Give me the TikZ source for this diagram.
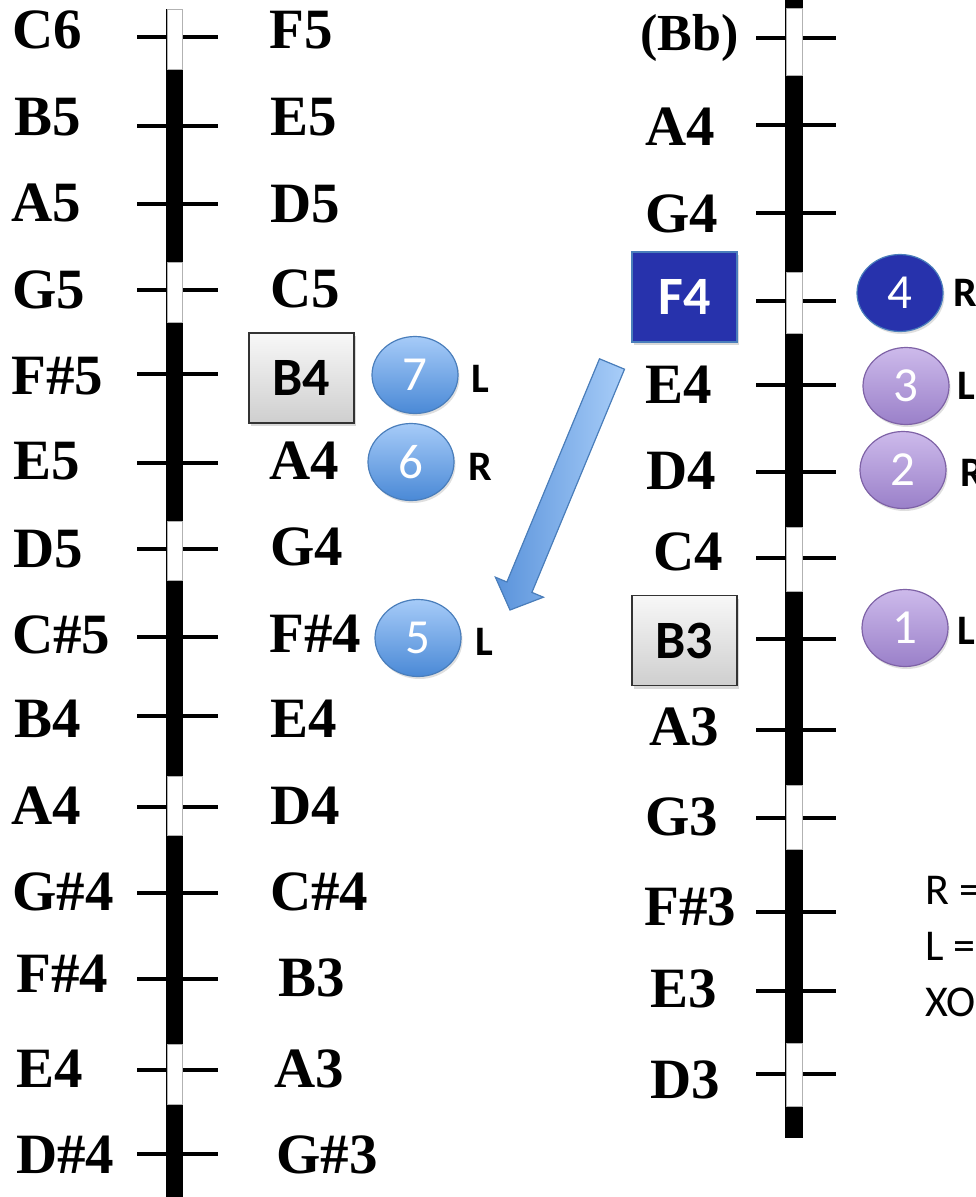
\documentclass[tikz,border=0pt]{standalone}
\usepackage{fontspec}
\setmainfont{Liberation Serif}
\newfontfamily\calfont{Carlito}
\usetikzlibrary{positioning,shapes.geometric,shadows}

\definecolor{ballTop}{HTML}{A6CBF8}
\definecolor{ballBot}{HTML}{4A89D6}
\definecolor{ballEdge}{HTML}{4A7EBB}
\definecolor{lilacTop}{HTML}{CDBAEB}
\definecolor{lilacBot}{HTML}{9A80C9}
\definecolor{lilacEdge}{HTML}{7E62A6}
\definecolor{navyFill}{HTML}{2732AC}
\definecolor{arrowDark}{HTML}{5A93DB}
\definecolor{arrowLight}{HTML}{A8CDF8}

\tikzset{note/.style={font=\fontsize{57}{60}\selectfont\bfseries, inner sep=0pt, anchor=base west}}
\tikzset{side/.style={font=\calfont\bfseries\fontsize{42}{42}\selectfont, inner sep=0pt}}
\tikzset{legend/.style={font=\calfont\fontsize{44}{44}\selectfont, inner sep=0pt, anchor=base west}}

\begin{document}
\begin{tikzpicture}[x=1pt,y=-1pt,
    tick/.style={line width=3.5pt},
    hole/.style={fill=white,draw=gray!60,line width=0.8pt},
    ball/.style={ellipse, minimum width=86pt, minimum height=77pt, inner sep=0pt, line width=1.2pt,
        text=white, font=\calfont\fontsize{49}{49}\selectfont,
        drop shadow={shadow xshift=1.5pt,shadow yshift=-2.5pt,opacity=0.25}},
    blueball/.style={ball, top color=ballTop, bottom color=ballBot, draw=ballEdge},
    lilacball/.style={ball, top color=lilacTop, bottom color=lilacBot, draw=lilacEdge},
    navyball/.style={ball, fill=navyFill, draw=ballEdge},
    keybox/.style={rectangle, minimum width=105pt, minimum height=90pt, inner sep=0pt,
        font=\calfont\bfseries\fontsize{54}{54}\selectfont,
        drop shadow={shadow xshift=2pt,shadow yshift=-3pt,opacity=0.3}},
    graybox/.style={keybox, top color=gray!6, bottom color=gray!38, draw=black!80, line width=1.5pt},
    navybox/.style={keybox, fill=navyFill, draw=ballEdge, line width=1.2pt, text=white}]
\useasboundingbox (0,0) rectangle (976,1197);
\clip (0,0) rectangle (976,1197);

% ticks and bars
\foreach \y in {37,126,204,290,374,463,549,637,716,807,893,979,1070,1154}
    \draw[tick] (137,\y) -- (218,\y);
\fill (166,9) rectangle (183,1197);
\foreach \a/\b in {9/69,262/322,521/580,776/835,1044/1104}
    \draw[hole] (167,\a) rectangle (182,\b);

\foreach \y in {38,125,213,301,385,472,558,639,730,818,912,991,1074}
    \draw[tick] (756,\y) -- (836,\y);
\fill (785,0) rectangle (803,1138);
\foreach \a/\b in {8/75,272/333,527/591,785/849,1043/1106}
    \draw[hole] (786,\a) rectangle (802,\b);

% left labels
\node[note] (lc6) at (12,48) {C6};
\node[note] (lb5) at (14,135) {B5};
\node[note] (la5) at (11,221) {A5};
\node[note] (lg5) at (12,308) {G5};
\node[note] (lfs5) at (11,394) {F\#5};
\node[note] (le5) at (13,479) {E5};
\node[note] (ld5) at (13,567) {D5};
\node[note] (lcs5) at (12,653) {C\#5};
\node[note] (lb4) at (14,737) {B4};
\node[note] (la4) at (11,824) {A4};
\node[note] (lgs4) at (12,910) {G\#4};
\node[note] (lfs4) at (16,992) {F\#4};
\node[note] (le4) at (16,1087) {E4};
\node[note] (lds4) at (16,1173) {D\#4};

% middle labels
\node[note] (mf5) at (269,48) {F5};
\node[note] (me5) at (270,135) {E5};
\node[note] (md5) at (270,222) {D5};
\node[note] (mc5) at (270,307) {C5};
\node[graybox] (mb4) at (301.5,378) {B4};
\node[note] (ma4) at (269,479) {A4};
\node[note] (mg4) at (270,565) {G4};
\node[note] (mfs4) at (269,652) {F\#4};
\node[note] (me4) at (270,737) {E4};
\node[note] (md4) at (270,824) {D4};
\node[note] (mcs4) at (270,910) {C\#4};
\node[note] (mb3) at (278,996) {B3};
\node[note] (ma3) at (274,1087) {A3};
\node[note] (mgs3) at (276,1173) {G\#3};

% right labels
\node[note, font=\fontsize{52}{56}\selectfont\bfseries] (rbb) at (640,50) {(Bb)};
\node[note] (ra4) at (645,145) {A4};
\node[note] (rg4) at (645,232) {G4};
\node[navybox] (rf4) at (684.5,297) {F4};
\node[note] (re4) at (645,403) {E4};
\node[note] (rd4) at (646,489) {D4};
\node[note] (rc4) at (653,570) {C4};
\node[graybox] (rb3) at (684.5,640.5) {B3};
\node[note] (ra3) at (649,745) {A3};
\node[note] (rg3) at (645,835) {G3};
\node[note] (rfs3) at (644,925) {F\#3};
\node[note] (re3) at (650,1007) {E3};
\node[note] (rd3) at (650,1098) {D3};

% fingering balls
\node[blueball] (e7) at (415,375) {7};
\node[blueball] (e6) at (411,462) {6};
\node[blueball] (e5) at (418,638) {5};
\node[navyball] (e4) at (900,293) {4};
\node[lilacball] (e3) at (906,386) {3};
\node[lilacball] (e2) at (903,470) {2};
\node[lilacball] (e1) at (905,628) {1};

\node[side, right=13pt of e7, yshift=-4pt] (s7) {L};
\node[side, right=14pt of e6, yshift=-5pt] (s6) {R};
\node[side, right=14pt of e5, yshift=-4pt] (s5) {L};
\node[side, right=10pt of e4] (s4) {R};
\node[side, right=8pt of e3] (s3) {L};
\node[side, right=14pt of e2, yshift=-3pt] (s2) {R};
\node[side, right=9pt of e1, yshift=-3pt] (s1) {L};

% block arrow
\filldraw[left color=arrowDark, right color=arrowLight, draw=ballEdge, line width=1.2pt, line join=miter]
    (624.5,369.2) -- (599.5,358.8) -- (506.9,582.0) -- (495.4,577.2) -- (510,610)
    -- (543.4,597.2) -- (531.9,592.4) -- cycle;

% key
\node[legend] (k1) at (925,904) {R =};
\node[legend] (k2) at (925,960) {L =};
\node[legend] (k3) at (925,1016) {XO};
\end{tikzpicture}
\end{document}
